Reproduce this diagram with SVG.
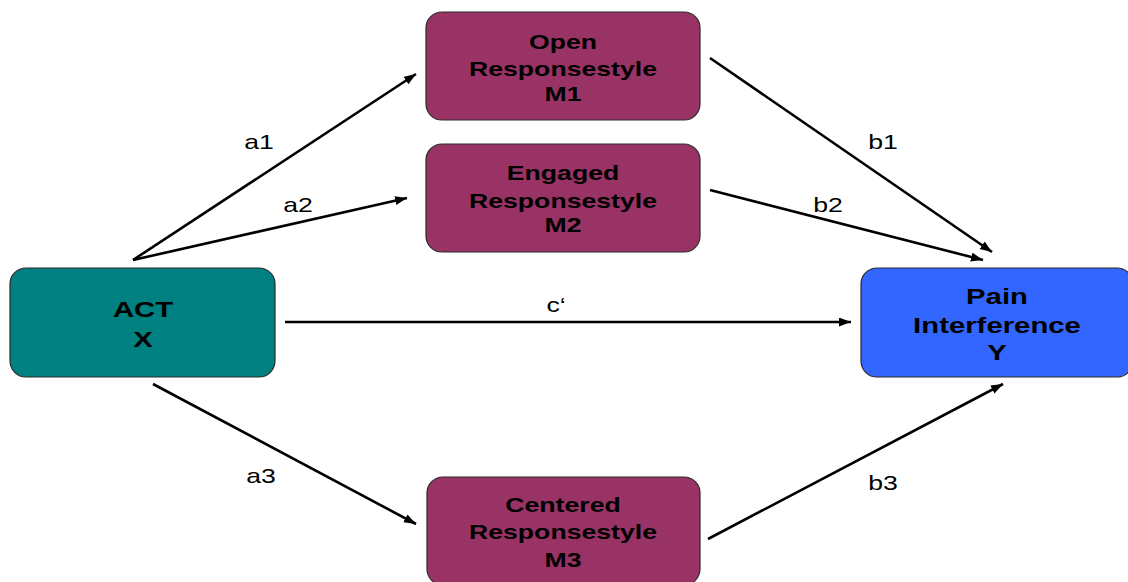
<svg xmlns="http://www.w3.org/2000/svg" width="1128" height="582" viewBox="0 0 1128 582">
  <defs>
    <style>
      .box { stroke: #2a2a2a; stroke-width: 1.2; }
      .x { fill: #008080; }
      .m { fill: #993366; }
      .y { fill: #3366ff; }
      .nt { font-family: "Liberation Sans", Arial, sans-serif; font-weight: bold; font-size: 20px; fill: #000; text-anchor: middle; }
      .big { font-size: 22px; }
      .lbl { font-family: "Liberation Sans", Arial, sans-serif; font-size: 20px; fill: #000; text-anchor: middle; }
      .edge { stroke: #000; stroke-width: 2.6; fill: none; marker-end: url(#head); }
    </style>
    <marker id="head" markerUnits="userSpaceOnUse" markerWidth="13" markerHeight="10" refX="12" refY="4.5" orient="auto">
      <path d="M0,0 L12,4.5 L0,9 Z" fill="#000"/>
    </marker>
  </defs>

  <rect width="1128" height="582" fill="#fff"/>

  <!-- connectors -->
  <g id="connectors">
    <line class="edge" x1="133" y1="260" x2="416" y2="74"/>
    <line class="edge" x1="133" y1="260" x2="407" y2="198"/>
    <line class="edge" x1="285" y1="322" x2="851" y2="322"/>
    <line class="edge" x1="153" y1="384" x2="416" y2="524"/>
    <line class="edge" x1="710" y1="58" x2="992" y2="252"/>
    <line class="edge" x1="710" y1="190" x2="983" y2="260"/>
    <line class="edge" x1="708" y1="539" x2="1003" y2="384"/>
    <g transform="matrix(1.333 0 0 1 259 0)"><text class="lbl" x="0" y="149">a1</text></g>
    <g transform="matrix(1.333 0 0 1 298 0)"><text class="lbl" x="0" y="212">a2</text></g>
    <g transform="matrix(1.333 0 0 1 556 0)"><text class="lbl" x="0" y="312">c‘</text></g>
    <g transform="matrix(1.333 0 0 1 261 0)"><text class="lbl" x="0" y="483">a3</text></g>
    <g transform="matrix(1.333 0 0 1 883 0)"><text class="lbl" x="0" y="149">b1</text></g>
    <g transform="matrix(1.333 0 0 1 828 0)"><text class="lbl" x="0" y="212">b2</text></g>
    <g transform="matrix(1.333 0 0 1 883 0)"><text class="lbl" x="0" y="490">b3</text></g>
  </g>

  <!-- X: ACT -->
  <g id="act">
    <rect class="box x" x="10" y="268" width="265" height="109" rx="16"/>
    <g transform="matrix(1.333 0 0 1 143 0)">
      <text class="nt big" x="0" y="317">ACT</text>
      <text class="nt big" x="0" y="347">X</text>
    </g>
  </g>

  <!-- M1 -->
  <g id="m1">
    <rect class="box m" x="426" y="12" width="274" height="108" rx="16"/>
    <g transform="matrix(1.333 0 0 1 563 0)">
      <text class="nt" x="0" y="49">Open</text>
      <text class="nt" x="0" y="76">Responsestyle</text>
      <text class="nt" x="0" y="101">M1</text>
    </g>
  </g>

  <!-- M2 -->
  <g id="m2">
    <rect class="box m" x="426" y="144" width="274" height="108" rx="16"/>
    <g transform="matrix(1.333 0 0 1 563 0)">
      <text class="nt" x="0" y="180">Engaged</text>
      <text class="nt" x="0" y="208">Responsestyle</text>
      <text class="nt" x="0" y="232">M2</text>
    </g>
  </g>

  <!-- M3 -->
  <g id="m3">
    <rect class="box m" x="427" y="477" width="273" height="108" rx="16"/>
    <g transform="matrix(1.333 0 0 1 563 0)">
      <text class="nt" x="0" y="512">Centered</text>
      <text class="nt" x="0" y="539">Responsestyle</text>
      <text class="nt" x="0" y="567">M3</text>
    </g>
  </g>

  <!-- Y: Pain Interference -->
  <g id="pain">
    <rect class="box y" x="861" y="268" width="272" height="109" rx="16"/>
    <g transform="matrix(1.333 0 0 1 997 0)">
      <text class="nt big" x="0" y="304">Pain</text>
      <text class="nt big" x="0" y="333">Interference</text>
      <text class="nt big" x="0" y="360">Y</text>
    </g>
  </g>
</svg>
